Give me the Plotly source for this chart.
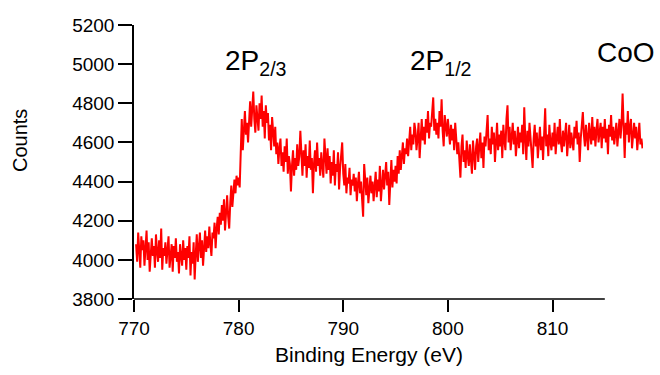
import numpy as np
import plotly.graph_objects as go

# Co 2p XPS spectrum of CoO, 0.1 eV steps starting at 770.2 eV
energy_start = 770.2
energy_step = 0.1

counts = [
    4080, 3990, 4140, 4010, 3960, 4120, 4050, 4100,
    3970, 4060, 4150, 4000, 4090, 3940, 4030, 4110, 4020, 4070,
    3960, 4130, 4040, 3990, 4100, 4010, 4160, 3950, 4060, 4020,
    4090, 3980, 4050, 4120, 3960, 4030, 4080, 3940, 4070, 4010,
    4110, 3990, 4040, 3930, 4080, 4020, 3970, 4100, 4000, 4060,
    3950, 4070, 4010, 4120, 3920, 4040, 3980, 4090, 3900, 4030,
    4130, 3990, 4060, 4140, 4010, 4100, 3970, 4080, 4150, 4040,
    4120, 4060, 4170, 4080, 4020, 4140, 4110, 4190, 4060, 4160,
    4220, 4130, 4240, 4180, 4280, 4200, 4310, 4150, 4260, 4330,
    4220, 4160, 4290, 4380, 4270, 4350, 4410, 4340, 4430, 4380,
    4420, 4370, 4610, 4720, 4560, 4690, 4760, 4640, 4700, 4600,
    4740, 4810, 4680, 4760, 4860, 4720, 4650, 4790, 4700, 4660,
    4800, 4720, 4840, 4680, 4760, 4620, 4790, 4700, 4750, 4610,
    4690, 4560, 4730, 4620, 4580, 4680, 4540, 4600, 4490, 4570,
    4620, 4480, 4550, 4450, 4580, 4500, 4620, 4440, 4530, 4490,
    4350, 4480, 4560, 4430, 4520, 4460, 4590, 4480, 4530, 4660,
    4500, 4430, 4560, 4480, 4590, 4420, 4530, 4470, 4610, 4460,
    4520, 4340, 4490, 4560, 4450, 4600, 4480, 4520, 4430, 4550,
    4480, 4420, 4620, 4510, 4440, 4570, 4460, 4530, 4390, 4500,
    4430, 4560, 4380, 4490, 4450, 4550, 4360, 4470, 4520, 4600,
    4440, 4380, 4490, 4340, 4420, 4390, 4470, 4330, 4410, 4380,
    4440, 4350, 4420, 4300, 4390, 4450, 4340, 4400, 4310, 4220,
    4490, 4380, 4330, 4420, 4290, 4360, 4430, 4340, 4400, 4300,
    4390, 4450, 4320, 4410, 4350, 4480, 4300, 4400, 4460, 4360,
    4420, 4500, 4380, 4450, 4280, 4430, 4510, 4370, 4460, 4400,
    4480, 4390, 4530, 4440, 4560, 4460, 4520, 4600, 4490, 4570,
    4540, 4620, 4530, 4600, 4680, 4560, 4640, 4590, 4700, 4660,
    4560, 4620, 4700, 4520, 4650, 4720, 4610, 4680, 4590, 4720,
    4650, 4760, 4620, 4700, 4680, 4780, 4830, 4660, 4720, 4640,
    4700, 4620, 4760, 4680, 4820, 4660, 4580, 4740, 4690, 4630,
    4720, 4640, 4590, 4690, 4610, 4670, 4560, 4700, 4620, 4540,
    4600, 4510, 4420, 4580, 4640, 4500, 4560, 4470, 4610, 4530,
    4480, 4590, 4530, 4440, 4610, 4550, 4460, 4580, 4620, 4500,
    4560, 4650, 4520, 4600, 4470, 4630, 4580, 4680, 4740, 4560,
    4620, 4540, 4680, 4590, 4650, 4500, 4620, 4700, 4560, 4640,
    4580, 4660, 4520, 4690, 4610, 4560, 4720, 4790, 4600, 4680,
    4560, 4640, 4700, 4590, 4660, 4530, 4620, 4680, 4570, 4650,
    4600, 4690, 4540, 4780, 4620, 4510, 4660, 4580, 4700, 4620,
    4540, 4470, 4620, 4690, 4580, 4650, 4520, 4600, 4680, 4560,
    4630, 4510, 4700, 4775, 4580, 4640, 4530, 4690, 4600, 4560,
    4650, 4580, 4700, 4540, 4620, 4680, 4590, 4720, 4600, 4550,
    4660, 4580, 4640, 4700, 4530, 4620, 4690, 4570, 4650, 4600,
    4560, 4680, 4620, 4710, 4590, 4650, 4500, 4620, 4700, 4755,
    4640, 4580, 4690, 4620, 4560, 4700, 4650, 4590, 4730, 4610,
    4680, 4580, 4660, 4720, 4600, 4640, 4700, 4570, 4680, 4620,
    4720, 4600, 4670, 4540, 4690, 4630, 4740, 4610, 4680, 4590,
    4660, 4700, 4580, 4650, 4720, 4620, 4690, 4850, 4600, 4520,
    4700, 4640, 4760, 4600, 4680, 4720, 4570, 4650, 4700, 4620,
    4680, 4560, 4640, 4700, 4590, 4620, 4570,
]
energy = np.round(energy_start + energy_step * np.arange(len(counts)), 2)

x_ticks = [770, 780, 790, 800, 810]
y_ticks = [3800, 4000, 4200, 4400, 4600, 4800, 5000, 5200]

peak_labels = ["2P<sub>2/3</sub>", "2P<sub>1/2</sub>", "CoO"]
peak_label_x = [778.5, 796.2, 814.1]
peak_label_y = [5010, 5010, 5060]

FONT = "Liberation Sans, Arial, sans-serif"

fig = go.Figure()
fig.add_trace(go.Scatter(
    x=energy, y=counts, mode="lines",
    line=dict(color="#ff0000", width=2),
    showlegend=False, hoverinfo="x+y",
))

# bottom axis line spans 770-815 only
fig.add_shape(type="line", xref="x", yref="paper", x0=770, x1=815, y0=0, y1=0,
              line=dict(color="black", width=1.5))

for txt, xx, yy in zip(peak_labels, peak_label_x, peak_label_y):
    fig.add_annotation(x=xx, y=yy, xref="x", yref="y", text=txt, showarrow=False,
                       xanchor="left", yanchor="middle",
                       font=dict(family=FONT, size=28, color="black"))

fig.add_annotation(x=792.5, y=-0.204, xref="x", yref="paper",
                   text="Binding Energy (eV)", showarrow=False,
                   xanchor="center", yanchor="middle",
                   font=dict(family=FONT, size=21, color="black"))
fig.add_annotation(x=-0.224, y=0.58, xref="paper", yref="paper",
                   text="Counts", showarrow=False, textangle=-90,
                   xanchor="center", yanchor="middle",
                   font=dict(family=FONT, size=20, color="black"))

fig.update_layout(
    width=660, height=375,
    margin=dict(l=134, r=17, t=25, b=76),
    paper_bgcolor="white", plot_bgcolor="white",
    font=dict(family=FONT, size=19, color="black"),
    xaxis=dict(range=[770, 818.65], tickvals=x_ticks, ticks="outside",
               ticklen=12, tickwidth=1.5, tickcolor="black",
               showline=False, showgrid=False, zeroline=False,
               tickfont=dict(size=19)),
    yaxis=dict(range=[3800, 5200], tickvals=y_ticks, ticks="outside",
               ticklen=14, tickwidth=1.5, tickcolor="black",
               showline=True, linecolor="black", linewidth=1.5,
               showgrid=False, zeroline=False,
               tickfont=dict(size=19)),
)

fig.write_html("out.html")
